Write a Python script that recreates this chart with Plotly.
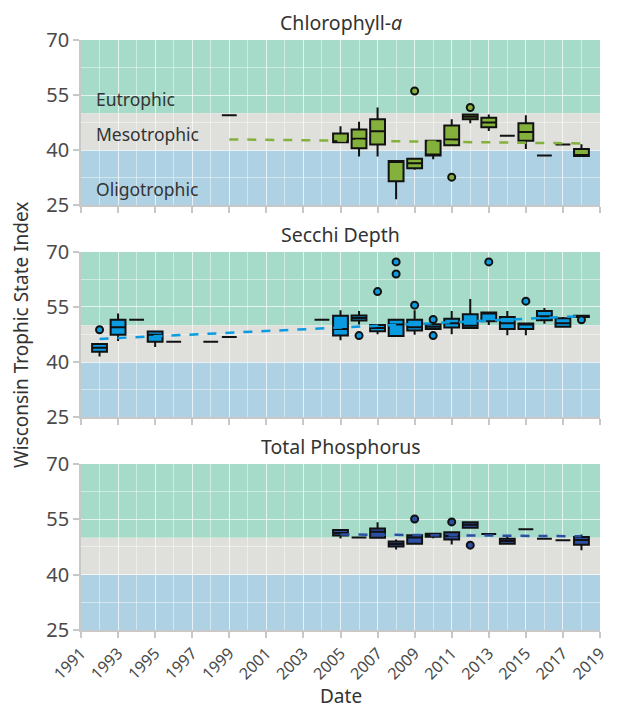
import plotly.graph_objects as go

# ---------------- data (Wisconsin TSI, annual box summaries) ----------------
chl_years = [1999, 2005, 2006, 2007, 2008, 2009, 2010, 2011, 2012, 2013, 2014, 2015, 2016, 2017, 2018]
chl_lo = [49.5, 42.1, 38.2, 38.2, 26.6, 34.6, 37.5, 41.3, 47.3, 45.2, 43.9, 40.3, 38.5, 41.5, 38.4]
chl_q1 = [49.5, 42.1, 40.5, 41.5, 31.5, 35.0, 38.5, 41.3, 48.4, 46.2, 43.9, 42.5, 38.5, 41.5, 38.4]
chl_med = [49.5, 42.1, 43.1, 45.1, 37.0, 36.4, 38.5, 42.9, 49.1, 47.5, 43.9, 44.9, 38.5, 41.5, 38.4]
chl_q3 = [49.5, 44.5, 45.6, 48.4, 37.0, 37.6, 42.5, 46.7, 49.7, 48.8, 43.9, 47.3, 38.5, 41.5, 40.3]
chl_hi = [49.5, 46.5, 47.7, 51.6, 37.0, 37.6, 42.5, 48.4, 49.7, 49.7, 43.9, 49.5, 38.5, 41.5, 41.6]
chl_out_x = [2009, 2011, 2012]
chl_out_y = [56.1, 32.6, 51.6]
chl_trend_x = [1999, 2018]
chl_trend_y = [42.9, 41.8]

sec_years = [1992, 1993, 1994, 1995, 1996, 1998, 1999, 2004, 2005, 2006, 2007,
             2008, 2009, 2010, 2011, 2012, 2013, 2014, 2015, 2016, 2017, 2018]
sec_lo = [41.5, 45.7, 51.5, 44.1, 45.5, 45.5, 46.8, 51.5, 45.9, 50.2, 47.6,
          46.9, 47.4, 49.0, 47.6, 49.3, 50.1, 47.3, 47.3, 50.4, 49.6, 52.3]
sec_q1 = [42.8, 47.4, 51.5, 45.5, 45.5, 45.5, 46.8, 51.5, 47.2, 51.3, 48.4,
          47.1, 48.6, 49.0, 49.4, 49.3, 51.1, 49.0, 49.0, 51.4, 49.6, 52.3]
sec_med = [43.9, 49.5, 51.5, 47.4, 45.5, 45.5, 46.8, 51.5, 49.0, 52.0, 49.3,
           50.2, 49.5, 49.6, 50.6, 49.9, 53.5, 50.6, 50.5, 52.5, 50.6, 52.5]
sec_q3 = [44.9, 51.5, 51.5, 48.3, 45.5, 45.5, 46.8, 51.5, 52.6, 52.7, 50.1,
          51.5, 51.5, 50.3, 51.8, 53.0, 53.5, 52.3, 50.5, 53.9, 51.9, 52.6]
sec_hi = [44.9, 53.2, 51.5, 48.3, 45.5, 45.5, 46.8, 51.5, 54.1, 53.9, 50.1,
          51.5, 54.1, 50.3, 53.9, 57.2, 53.5, 53.9, 50.5, 54.7, 52.3, 52.6]
sec_out_x = [1992, 2006, 2007, 2008, 2008, 2009, 2010, 2010, 2013, 2015, 2018]
sec_out_y = [48.8, 47.2, 59.2, 67.3, 64.0, 55.5, 51.6, 47.2, 67.3, 56.6, 51.5]
sec_trend_x = [1992, 2018]
sec_trend_y = [46.3, 52.5]

tp_years = [2005, 2006, 2007, 2008, 2009, 2010, 2011, 2012, 2013, 2014, 2015, 2016, 2017, 2018]
tp_lo = [49.8, 50.1, 50.0, 46.8, 48.4, 49.9, 48.2, 52.7, 51.0, 48.2, 52.3, 49.7, 49.3, 46.6]
tp_q1 = [50.6, 50.1, 50.0, 47.6, 48.4, 50.3, 49.5, 52.7, 51.0, 48.4, 52.3, 49.7, 49.3, 48.1]
tp_med = [51.3, 50.1, 51.6, 48.3, 50.1, 50.7, 50.5, 53.5, 51.0, 49.1, 52.3, 49.7, 49.3, 49.4]
tp_q3 = [52.1, 50.1, 52.5, 49.0, 50.7, 51.1, 51.5, 54.2, 51.0, 49.7, 52.3, 49.7, 49.3, 50.2]
tp_hi = [52.1, 50.1, 54.2, 49.5, 50.7, 51.3, 51.5, 54.2, 51.0, 50.3, 52.3, 49.7, 49.3, 50.9]
tp_out_x = [2009, 2011, 2012]
tp_out_y = [55.1, 54.3, 48.0]
tp_trend_x = [2005, 2018]
tp_trend_y = [50.9, 50.4]

panel_titles = ["Chlorophyll-<i>a</i>", "Secchi Depth", "Total Phosphorus"]
band_names = ["Eutrophic", "Mesotrophic", "Oligotrophic"]
band_limits = [(50, 70), (40, 50), (25, 40)]
x_ticks = list(range(1991, 2020, 2))
y_ticks = [25, 40, 55, 70]

# ---------------- styling ----------------
FONT = "Noto Sans"
TEXT = "#333333"
TICK = "#4a4a4a"
band_colors = ["#a5dbc8", "#dfe0dc", "#afd1e4"]
fills = ["#84b13b", "#0a9be0", "#2d4fa3"]
domains = [(0.7203, 1.0), (0.361, 0.6407), (0.0, 0.2814)]
GRID = "rgba(255,255,255,0.45)"

panels = [
    (chl_years, chl_lo, chl_q1, chl_med, chl_q3, chl_hi, chl_out_x, chl_out_y, chl_trend_x, chl_trend_y),
    (sec_years, sec_lo, sec_q1, sec_med, sec_q3, sec_hi, sec_out_x, sec_out_y, sec_trend_x, sec_trend_y),
    (tp_years, tp_lo, tp_q1, tp_med, tp_q3, tp_hi, tp_out_x, tp_out_y, tp_trend_x, tp_trend_y),
]

fig = go.Figure()
shapes = []
annotations = []

for i, (yrs, lo, q1, med, q3, hi, ox, oy, tx, ty) in enumerate(panels):
    n = i + 1
    xa = "x" if n == 1 else f"x{n}"
    ya = "y" if n == 1 else f"y{n}"

    fig.add_trace(go.Scatter(
        x=tx, y=ty, mode="lines", xaxis=xa, yaxis=ya,
        line=dict(color=fills[i], width=2.5, dash="dash"),
        hoverinfo="skip", showlegend=False,
    ))
    fig.add_trace(go.Box(
        x=yrs, q1=q1, median=med, q3=q3, lowerfence=lo, upperfence=hi,
        xaxis=xa, yaxis=ya, width=0.8, whiskerwidth=0,
        fillcolor=fills[i], line=dict(color="#111111", width=2),
        boxpoints=False, showlegend=False,
    ))
    fig.add_trace(go.Scatter(
        x=ox, y=oy, mode="markers", xaxis=xa, yaxis=ya,
        marker=dict(size=7, color=fills[i], line=dict(color="#111111", width=2)),
        showlegend=False,
    ))

    for (lo_b, hi_b), col in zip(band_limits, band_colors):
        shapes.append(dict(
            type="rect", xref=f"{xa} domain", yref=ya, x0=0, x1=1, y0=lo_b, y1=hi_b,
            fillcolor=col, line=dict(width=0), layer="below",
        ))

    annotations.append(dict(
        text=panel_titles[i], xref="paper", yref="paper", x=0.5, y=domains[i][1],
        yanchor="bottom", yshift=2, showarrow=False,
        font=dict(family=FONT, size=19.5, color=TEXT),
    ))

    axis_common = dict(
        showline=True, linecolor="#c8c8c8", linewidth=1.5,
        ticks="outside", ticklen=6, tickcolor="#c8c8c8", tickwidth=1.5,
        showgrid=True, gridcolor=GRID, gridwidth=1,
        zeroline=False,
    )
    fig.layout[f"xaxis{'' if n == 1 else n}"] = dict(
        axis_common, domain=[0, 1], range=[1991, 2019], anchor=ya,
        tickvals=x_ticks, ticktext=[str(v) for v in x_ticks],
        tickangle=-45, showticklabels=(n == 3),
        tickfont=dict(family=FONT, size=16, color=TICK),
        minor=dict(dtick=1, tick0=1991, showgrid=True, gridcolor=GRID),
    )
    fig.layout[f"yaxis{'' if n == 1 else n}"] = dict(
        axis_common, domain=list(domains[i]), range=[25, 70], anchor=xa,
        tickvals=y_ticks, tickfont=dict(family=FONT, size=20, color=TICK),
        minor=dict(dtick=7.5, tick0=25, showgrid=True, gridcolor=GRID),
    )

# trophic class labels in the top panel
for name, y in zip(band_names, [54.0, 44.4, 29.4]):
    annotations.append(dict(
        text=name, xref="x", yref="y", x=1991.7, y=y, xanchor="left", yanchor="middle",
        showarrow=False, font=dict(family=FONT, size=17.5, color=TEXT),
    ))

annotations.append(dict(
    text="Wisconsin Trophic State Index", xref="paper", yref="paper", x=0, y=0.5,
    xanchor="center", yanchor="middle", xshift=-60, textangle=-90, showarrow=False,
    font=dict(family=FONT, size=19, color=TEXT),
))
annotations.append(dict(
    text="Date", xref="paper", yref="paper", x=0.5, y=0, yanchor="middle",
    yshift=-66, showarrow=False, font=dict(family=FONT, size=19, color=TEXT),
))

fig.update_layout(
    width=620, height=711,
    margin=dict(l=81, r=20, t=40, b=81),
    plot_bgcolor="white", paper_bgcolor="white",
    shapes=shapes, annotations=annotations,
    font=dict(family=FONT, color=TEXT),
    showlegend=False,
)

fig.write_html("out.html")
